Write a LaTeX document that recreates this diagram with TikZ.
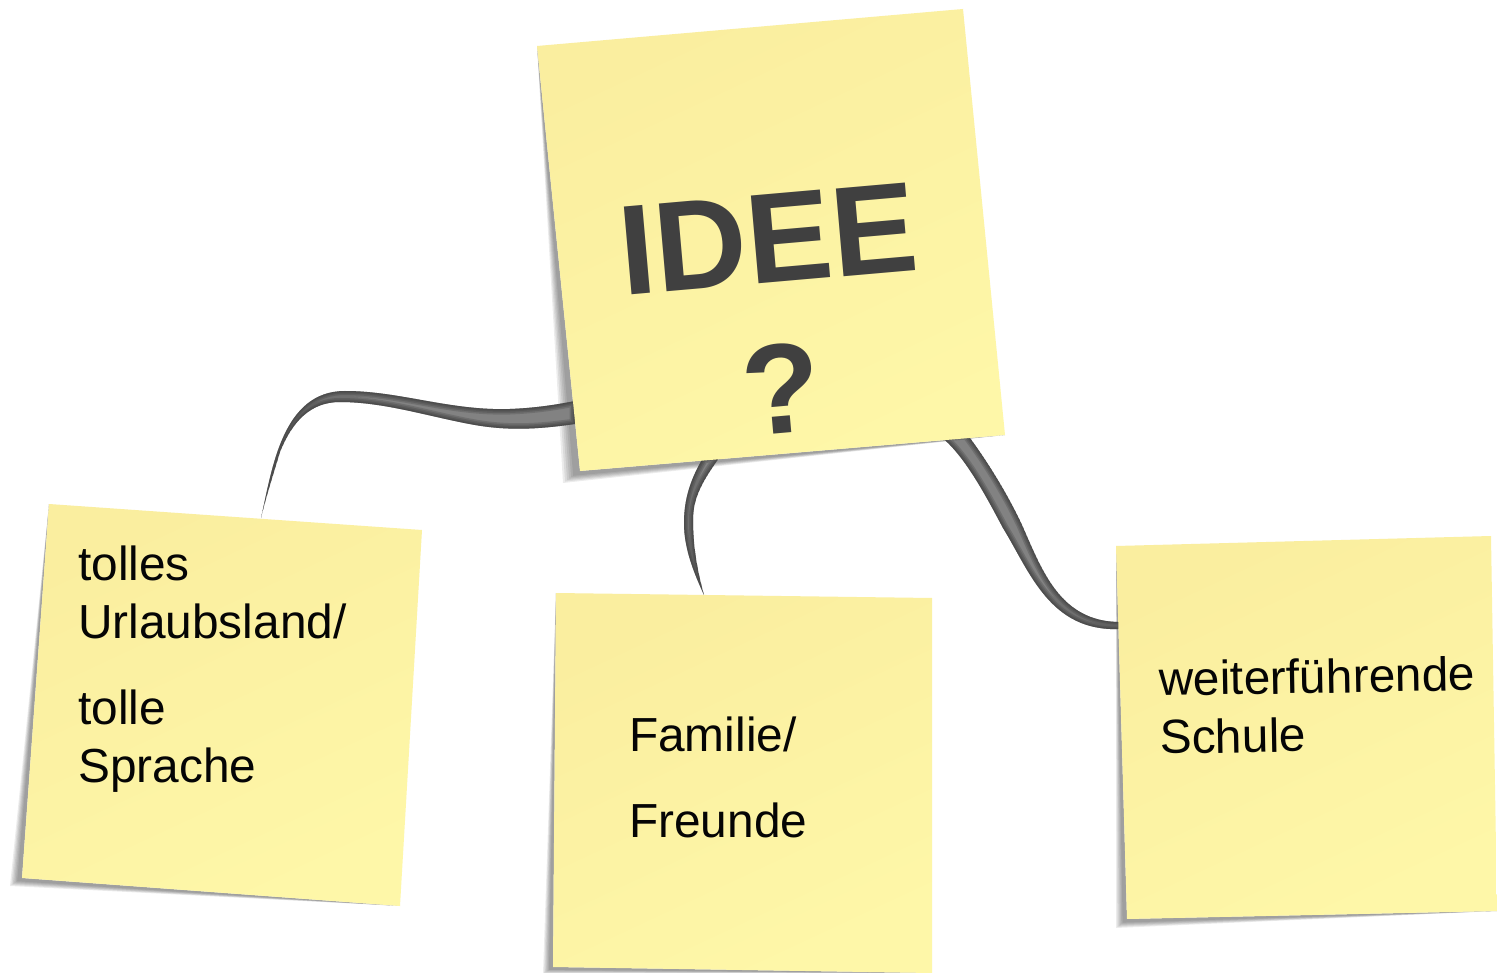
\documentclass[tikz,border=0pt]{standalone}
\usepackage{fontspec}
\setmainfont{Liberation Sans}
\usetikzlibrary{calc}
\definecolor{noteA}{HTML}{FAEE9F}
\definecolor{noteB}{HTML}{FEF7A8}
\definecolor{inkdark}{HTML}{404040}
\definecolor{inksmall}{HTML}{050505}
\definecolor{ribbon}{HTML}{828282}
\definecolor{ribbonedge}{HTML}{2E2E2E}
\tikzset{
  notefill/.style={top color=noteA,bottom color=noteB,shading angle=25},
  smalltext/.style={anchor=base west,inner sep=0pt,text=inksmall,font=\fontsize{47.8}{50}\selectfont},
  bigtext/.style={inner sep=0pt,text=inkdark,font=\fontsize{128}{128}\selectfont\bfseries},
}
% #1 top corner, #2 shadow corner, #3 far corner, #4 offset
\newcommand\noteshadow[4]{%
  \foreach \t in {1,0.88,0.76,0.64,0.52,0.4}{
    \fill[black,fill opacity=0.075] (#1) -- ($(#2)+\t*(#4)$) -- (#3) -- (#2) -- cycle;
  }}
\newcommand\ribbonshape[1]{%
  \begin{scope}
    \clip #1;
    \fill[ribbon] #1;
    \foreach \w in {11,8,5,2.5}{
      \draw[ribbonedge,draw opacity=0.22,line width=\w pt] #1;
    }
  \end{scope}}
\begin{document}
\begin{tikzpicture}[x=1pt,y=-1pt]
  \useasboundingbox (0,0) rectangle (1497,973);
  \fill[white] (0,0) rectangle (1497,973);

  % note corners
  \coordinate (mainTL) at (537,46);  \coordinate (mainTR) at (963,9);
  \coordinate (mainBR) at (1005,435);\coordinate (mainBL) at (580,471);
  \coordinate (leftTL) at (49,504);  \coordinate (leftTR) at (422,530);
  \coordinate (leftBR) at (400,906); \coordinate (leftBL) at (22,878);
  \coordinate (midTL) at (556,593);  \coordinate (midTR) at (932,598);
  \coordinate (midBR) at (932,973);  \coordinate (midBL) at (553,967);
  \coordinate (rightTL) at (1116,546);\coordinate (rightTR) at (1491,536);
  \coordinate (rightBR) at (1497,911);\coordinate (rightBL) at (1127,919);

  % shadows
  \noteshadow{mainTL}{mainBL}{mainBR}{-17,12}
  \noteshadow{leftTL}{leftBL}{leftBR}{-12,8}
  \noteshadow{midTL}{midBL}{midBR}{-10,7}
  \noteshadow{rightTL}{rightBL}{rightBR}{-11,9}

  % connector ends
  \coordinate (tipleft) at (261,518);
  \coordinate (tipmid) at (704,595);
  \coordinate (tipright) at (1120,622);

  % connectors
  \ribbonshape{(tipleft) .. controls (272,470) and (282,391) .. (345,391) .. controls (400,391) and (450,411) .. (510,409) .. controls (535,408) and (555,405) .. (575,401) -- (575,424) .. controls (540,429) and (510,431) .. (475,425) .. controls (430,417) and (385,402) .. (340,402) .. controls (310,402) and (292,422) .. (280,452) .. controls (274,472) and (266,497) .. cycle}
  \ribbonshape{(721,455) -- (703,458) .. controls (690,480) and (684,500) .. (684,523) .. controls (684,550) and (695,575) .. (tipmid) .. controls (697,570) and (693,545) .. (693,520) .. controls (693,495) and (705,478) .. cycle}
  \ribbonshape{(940,436) -- (967,434) .. controls (988,462) and (1008,495) .. (1022,525) .. controls (1042,570) and (1060,622) .. (tipright) -- (1120,629) .. controls (1050,632) and (1030,572) .. (1003,528) .. controls (988,500) and (965,455) .. cycle}

  % notes
  \shade[notefill] (mainTL) -- (mainTR) -- (mainBR) -- (mainBL) -- cycle;
  \shade[notefill] (leftTL) -- (leftTR) -- (leftBR) -- (leftBL) -- cycle;
  \shade[notefill] (midTL) -- (midTR) -- (midBR) -- (midBL) -- cycle;
  \shade[notefill] (rightTL) -- (rightTR) -- (rightBR) -- (rightBL) -- cycle;

  % texts
  \node[bigtext,anchor=base west,rotate=5] (idee) at (623,296) {IDEE};
  \node[bigtext,anchor=base,rotate=5] (frage) at (785,433) {?};

  \node[smalltext] (l1) at (78,580) {tolles};
  \node[smalltext] (l2) at (78,638) {Urlaubsland/};
  \node[smalltext] (l3) at (78,724) {tolle};
  \node[smalltext] (l4) at (78,782) {Sprache};

  \node[smalltext] (m1) at (629,751) {Familie/};
  \node[smalltext] (m2) at (629,837) {Freunde};

  \node[smalltext,rotate=1] (r1) at (1159,696) {weiterführende};
  \node[smalltext,rotate=1] (r2) at (1160,754) {Schule};
\end{tikzpicture}
\end{document}
